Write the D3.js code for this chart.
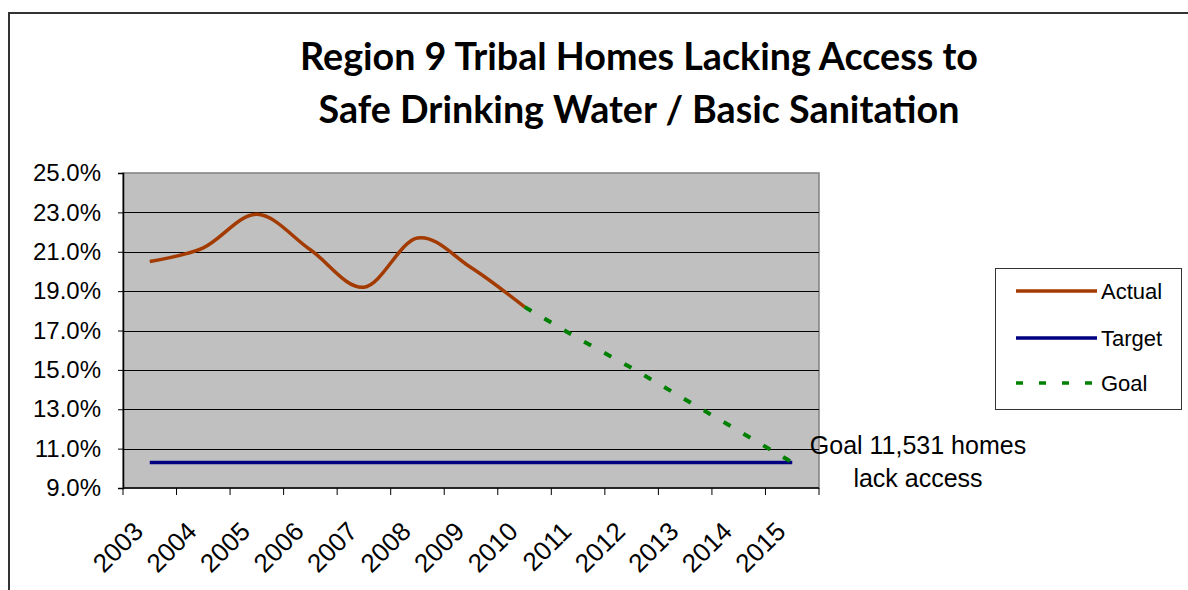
<!DOCTYPE html>
<html>
<head>
<meta charset="utf-8">
<script src="https://cdn.jsdelivr.net/npm/d3@7"></script>
<style>
  body { margin: 0; background: #fff; }
  text { font-family: "Liberation Sans", Arial, sans-serif; }
  text.title { font-family: Lato, "Open Sans", sans-serif; font-weight: bold; }
</style>
</head>
<body>
<script>
// chart data
var years = ['2003','2004','2005','2006','2007','2008','2009','2010','2011','2012','2013','2014','2015'];
var actual = [20.5, 21.2, 22.9, 21.1, 19.2, 21.7, 20.2, 18.2];
var target = [10.3, 10.3, 10.3, 10.3, 10.3, 10.3, 10.3, 10.3, 10.3, 10.3, 10.3, 10.3, 10.3];
var goalYears = ['2010','2011','2012','2013','2014','2015'];
var goal = [18.2, 16.6, 15.1, 13.5, 11.9, 10.3];
var yTicks = [9, 11, 13, 15, 17, 19, 21, 23, 25];
var titleLines = ['Region 9 Tribal Homes Lacking Access to', 'Safe Drinking Water / Basic Sanitation'];
var noteLines = ['Goal 11,531 homes', 'lack access'];

var width = 1188;
var height = 590;

var svg = d3.select('body')
  .append('svg')
  .attr('width', width)
  .attr('height', height);

// outer chart border
svg.append('path')
  .attr('d', 'M9,' + (height + 5) + 'V13H' + (width + 5))
  .attr('fill', 'none')
  .attr('stroke', '#333')
  .attr('stroke-width', 2);

var plot = { left: 123, top: 173, right: 819, bottom: 488 };

var xScale = d3.scaleBand()
  .domain(years)
  .range([plot.left, plot.right]);

var yScale = d3.scaleLinear()
  .domain([9, 25])
  .range([plot.bottom, plot.top]);

function cx(y) { return xScale(y) + xScale.bandwidth() / 2; }

// plot background
svg.append('rect')
  .attr('x', plot.left)
  .attr('y', plot.top)
  .attr('width', plot.right - plot.left)
  .attr('height', plot.bottom - plot.top)
  .attr('fill', '#c0c0c0')
  .attr('stroke', '#808080')
  .attr('stroke-width', 1.5);

// gridlines
svg.append('g')
  .selectAll('line')
  .data(yTicks.slice(1, -1))
  .enter()
  .append('line')
  .attr('x1', plot.left)
  .attr('x2', plot.right)
  .attr('y1', function (d) { return Math.round(yScale(d)) + 0.5; })
  .attr('y2', function (d) { return Math.round(yScale(d)) + 0.5; })
  .attr('stroke', '#000')
  .attr('stroke-width', 1);

// y axis
var yAxis = d3.axisLeft(yScale)
  .tickValues(yTicks)
  .tickSize(5)
  .tickPadding(17)
  .tickFormat(function (d) { return d.toFixed(1) + '%'; });

var yg = svg.append('g')
  .attr('class', 'yaxis')
  .attr('transform', 'translate(' + plot.left + ',0)')
  .call(yAxis);
yg.select('.domain').attr('stroke', '#000').attr('stroke-width', 1.5);
yg.selectAll('.tick line').attr('stroke', '#000');
yg.selectAll('.tick text')
  .attr('font-size', 24)
  .attr('fill', '#000');

// x axis - ticks between categories
var xg = svg.append('g')
  .attr('class', 'xaxis')
  .attr('transform', 'translate(0,' + plot.bottom + ')');
xg.append('line')
  .attr('x1', plot.left)
  .attr('x2', plot.right)
  .attr('stroke', '#000')
  .attr('stroke-width', 1.5);
xg.selectAll('.xtick')
  .data(years.concat(['end']))
  .enter()
  .append('line')
  .attr('class', 'xtick')
  .attr('x1', function (d, i) { return i < years.length ? xScale(d) : plot.right; })
  .attr('x2', function (d, i) { return i < years.length ? xScale(d) : plot.right; })
  .attr('y1', 0)
  .attr('y2', 7)
  .attr('stroke', '#000');
xg.selectAll('.xlabel')
  .data(years)
  .enter()
  .append('text')
  .attr('class', 'xlabel')
  .attr('text-anchor', 'end')
  .attr('font-size', 26)
  .attr('transform', function (d) {
    return 'translate(' + (cx(d) - 5) + ',45) rotate(-45)';
  })
  .text(function (d) { return d; });

var line = d3.line()
  .x(function (d) { return cx(d.year); })
  .y(function (d) { return yScale(d.value); });

function pairs(ys, vals) {
  return vals.map(function (v, i) { return { year: ys[i], value: v }; });
}

// target
svg.append('path')
  .attr('d', line(pairs(years, target)))
  .attr('fill', 'none')
  .attr('stroke', '#000080')
  .attr('stroke-width', 3.5);

// goal
svg.append('path')
  .attr('d', line(pairs(goalYears, goal)))
  .attr('fill', 'none')
  .attr('stroke', '#008000')
  .attr('stroke-width', 4)
  .attr('stroke-dasharray', '8,15');

// actual (smoothed)
svg.append('path')
  .attr('d', line.curve(d3.curveCatmullRom.alpha(0))(pairs(years, actual)))
  .attr('fill', 'none')
  .attr('stroke', '#a33a00')
  .attr('stroke-width', 3.5);

// title
var title = svg.append('g')
  .selectAll('text')
  .data(titleLines)
  .enter()
  .append('text')
  .attr('class', 'title')
  .attr('x', 639)
  .attr('y', function (d, i) { return 70 + i * 53; })
  .attr('text-anchor', 'middle')
  .attr('font-size', 36)
  .text(function (d) { return d; });
// fit first line to ~678px like the reference
var tw = title.nodes()[0].getComputedTextLength();
if (tw > 0) title.attr('font-size', 36 * 678 / tw);

// legend
var legendItems = [
  { name: 'Actual', color: '#a33a00', dash: null },
  { name: 'Target', color: '#000080', dash: null },
  { name: 'Goal', color: '#008000', dash: '7,16' }
];
var lg = svg.append('g');
lg.append('rect')
  .attr('x', 995.5)
  .attr('y', 268.5)
  .attr('width', 186)
  .attr('height', 141)
  .attr('fill', '#fff')
  .attr('stroke', '#333')
  .attr('stroke-width', 1);
var li = lg.selectAll('.item')
  .data(legendItems)
  .enter()
  .append('g')
  .attr('transform', function (d, i) { return 'translate(0,' + [291, 338, 383][i] + ')'; });
li.append('line')
  .attr('x1', 1016)
  .attr('x2', 1097)
  .attr('stroke', function (d) { return d.color; })
  .attr('stroke-width', 3.5)
  .attr('stroke-dasharray', function (d) { return d.dash; });
li.append('text')
  .attr('x', 1101)
  .attr('y', 8)
  .attr('font-size', 22)
  .text(function (d) { return d.name; });

// annotation
svg.append('g')
  .selectAll('text')
  .data(noteLines)
  .enter()
  .append('text')
  .attr('x', 918)
  .attr('y', function (d, i) { return 454 + i * 33; })
  .attr('text-anchor', 'middle')
  .attr('font-size', 25)
  .text(function (d) { return d; });
</script>
</body>
</html>
